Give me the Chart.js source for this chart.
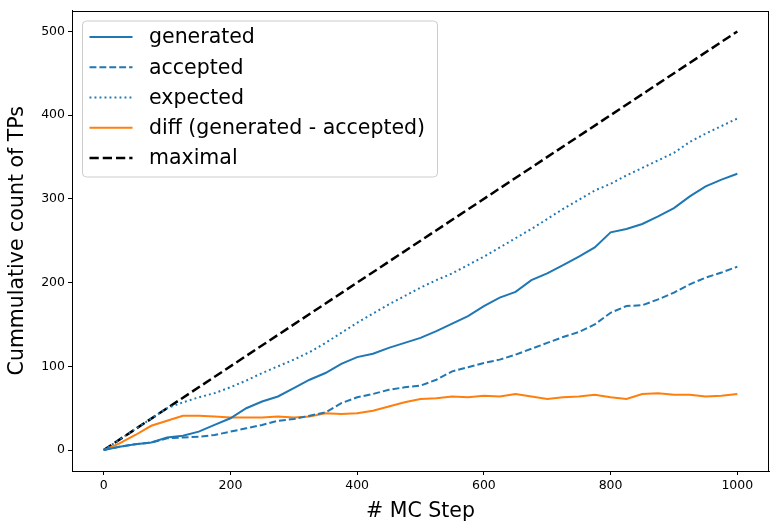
<!DOCTYPE html>
<html lang="en">
  <head>
    <meta charset="UTF-8" />
    <title>Cumulative TPs</title>
    <style>
      body { margin: 0; background: #fff; }
      canvas { display: block; }
    </style>
  </head>
  <body>
    <canvas id="myChart" width="779" height="531"></canvas>

    <script src="https://cdn.jsdelivr.net/npm/chart.js@4/dist/chart.umd.min.js"></script>
    <script>
      const steps = [0, 25, 50, 75, 100, 125, 150, 175, 200, 225, 250, 275, 300, 325, 350, 375, 400,
        425, 450, 475, 500, 525, 550, 575, 600, 625, 650, 675, 700, 725, 750, 775, 800,
        825, 850, 875, 900, 925, 950, 975, 1000];

      const generated = [0, 4, 7, 9, 15, 17, 22, 30, 38, 50, 58, 64, 74, 84, 92, 103, 111,
        115, 122, 128, 134, 142, 151, 160, 172, 182, 189, 203, 211, 221, 231, 242, 260,
        264, 270, 279, 289, 303, 315, 323, 330];

      const accepted = [0, 4, 7, 9, 14, 15, 16, 18, 22, 26, 30, 35, 37, 41, 45, 56, 63,
        67, 72, 75, 77, 84, 94, 99, 104, 108, 114, 121, 128, 135, 141, 150, 164,
        172, 173, 180, 188, 198, 206, 212, 219];

      const expected = [0, 12.5, 25, 37.5, 50, 57, 63, 68, 75, 83, 92, 100, 108, 117, 128, 140, 152,
        163, 174, 184, 194, 203, 211, 221, 231, 242, 253, 264, 276, 288, 299, 310, 318,
        328, 337, 346, 355, 368, 378, 387, 396];

      const diff = [0, 8, 18, 29, 35, 41, 41, 40, 39, 39, 39, 40, 39, 40, 44, 43, 44,
        47, 52, 57, 61, 62, 64, 63, 65, 64, 67, 64, 61, 63, 64, 66, 63,
        61, 67, 68, 66, 66, 64, 65, 67];

      const maximalSteps = [0, 1000];
      const maximal = [0, 500];

      const xTicks = [0, 200, 400, 600, 800, 1000];
      const yTicks = [0, 100, 200, 300, 400, 500];

      const labels = ["generated", "accepted", "expected", "diff (generated - accepted)", "maximal"];

      const BLUE = "#1f77b4";
      const ORANGE = "#ff7f0e";
      const FONT = "'DejaVu Sans', sans-serif";

      function toPoints(xs, ys) {
        return xs.map((x, i) => ({ x: x, y: ys[i] }));
      }

      function lineSet(label, xs, ys, color, width, dash) {
        return {
          label: label,
          data: toPoints(xs, ys),
          borderColor: color,
          backgroundColor: color,
          borderWidth: width,
          borderDash: dash,
          pointRadius: 0,
          tension: 0,
          fill: false
        };
      }

      // full black frame around the plot, like the matplotlib spines
      const frame = {
        id: "frame",
        afterDatasetsDraw(chart) {
          const a = chart.chartArea;
          const c = chart.ctx;
          c.save();
          c.strokeStyle = "#000";
          c.lineWidth = 1;
          c.strokeRect(Math.round(a.left) + 0.5, Math.round(a.top) + 0.5,
            Math.round(a.right - a.left) - 1, Math.round(a.bottom - a.top) - 1);
          c.restore();
        }
      };

      // legend drawn inside the plot, upper left
      const innerLegend = {
        id: "innerLegend",
        afterDraw(chart) {
          const a = chart.chartArea;
          const c = chart.ctx;
          const x0 = a.left + 10.5, y0 = a.top + 10.5, w = 355, h = 156, r = 4;
          c.save();
          c.beginPath();
          c.roundRect(x0, y0, w, h, r);
          c.fillStyle = "rgba(255,255,255,0.8)";
          c.fill();
          c.strokeStyle = "#cccccc";
          c.lineWidth = 1;
          c.stroke();

          c.font = "20.5px " + FONT;
          c.textBaseline = "middle";
          c.fillStyle = "#000";
          chart.data.datasets.forEach((ds, i) => {
            const cy = y0 + 16 + i * 30.25;
            c.beginPath();
            c.setLineDash(ds.borderDash || []);
            c.strokeStyle = ds.borderColor;
            c.lineWidth = ds.borderWidth;
            c.moveTo(x0 + 7, cy);
            c.lineTo(x0 + 50, cy);
            c.stroke();
            c.setLineDash([]);
            c.fillText(ds.label, x0 + 66.5, cy + 1);
          });
          c.restore();
        }
      };

      const ctx = document.getElementById("myChart").getContext("2d");

      const chart = new Chart(ctx, {
        type: "line",
        data: {
          datasets: [
            lineSet(labels[0], steps, generated, BLUE, 2, []),
            lineSet(labels[1], steps, accepted, BLUE, 2, [6.9, 3]),
            lineSet(labels[2], steps, expected, BLUE, 2, [1.9, 3.1]),
            lineSet(labels[3], steps, diff, ORANGE, 2, []),
            lineSet(labels[4], maximalSteps, maximal, "#000", 2.5, [9.25, 4])
          ]
        },
        options: {
          responsive: false,
          animation: false,
          layout: { padding: { left: 0, top: 10, right: 10, bottom: 0 } },
          plugins: {
            legend: { display: false },
            tooltip: { enabled: false }
          },
          scales: {
            x: {
              type: "linear",
              min: -50,
              max: 1050,
              afterBuildTicks: axis => { axis.ticks = xTicks.map(v => ({ value: v })); },
              afterFit: axis => { axis.height = 60; },
              grid: { display: true, drawOnChartArea: false, drawTicks: true, tickLength: 4, color: "#000" },
              border: { display: true, color: "#000", width: 1 },
              ticks: { color: "#000", padding: 3, maxRotation: 0, callback: v => String(v), font: { family: FONT, size: 12.5 } },
              title: { display: true, text: "# MC Step", color: "#000", padding: { top: 0, bottom: 7 }, font: { family: FONT, size: 20.5 } }
            },
            y: {
              type: "linear",
              min: -25,
              max: 525,
              afterBuildTicks: axis => { axis.ticks = yTicks.map(v => ({ value: v })); },
              afterFit: axis => { axis.width = 72; },
              grid: { display: true, drawOnChartArea: false, drawTicks: true, tickLength: 4, color: "#000" },
              border: { display: true, color: "#000", width: 1 },
              ticks: { color: "#000", padding: 3, callback: v => String(v), font: { family: FONT, size: 12.5 } },
              title: { display: true, text: "Cummulative count of TPs", color: "#000", padding: { top: 5, bottom: 0 }, font: { family: FONT, size: 20.5 } }
            }
          }
        },
        plugins: [frame, innerLegend]
      });
    </script>
  </body>
</html>
